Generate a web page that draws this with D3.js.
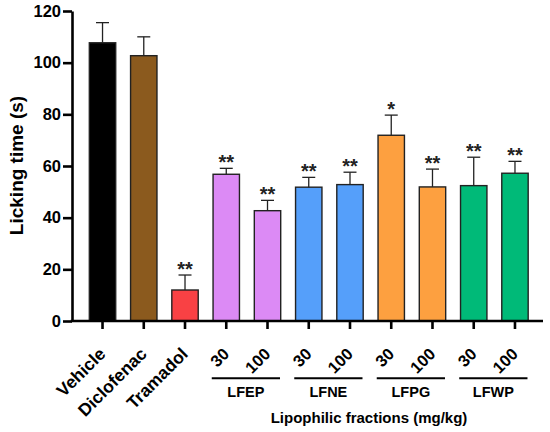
<!DOCTYPE html>
<html>
<head>
<meta charset="utf-8">
<script src="https://cdn.jsdelivr.net/npm/d3@7"></script>
<style>
  html, body { margin: 0; padding: 0; background: #fff; }
  svg { display: block; font-family: "Liberation Sans", Arial, sans-serif; }
</style>
</head>
<body>
<div id="chart"></div>
<script>
// data
const groups = ['Vehicle', 'Diclofenac', 'Tramadol', 'LFEP30', 'LFEP100', 'LFNE30', 'LFNE100', 'LFPG30', 'LFPG100', 'LFWP30', 'LFWP100'];
const tickLabels = ['Vehicle', 'Diclofenac', 'Tramadol', '30', '100', '30', '100', '30', '100', '30', '100'];
const means = [107.7, 102.7, 12.0, 56.8, 42.7, 51.8, 52.8, 71.9, 51.9, 52.4, 57.2];
const errTops = [115.5, 110.0, 17.8, 59.1, 46.7, 55.6, 57.6, 79.7, 58.8, 63.4, 61.8];
const stars = ['', '', '**', '**', '**', '**', '**', '*', '**', '**', '**'];
const barColors = ['#000000', '#8B5A1E', '#F94144', '#DC8AF5', '#DC8AF5', '#559FFA', '#559FFA', '#FDA040', '#FDA040', '#00BA78', '#00BA78'];
const fractions = [
    { name: 'LFEP', from: 'LFEP30', to: 'LFEP100' },
    { name: 'LFNE', from: 'LFNE30', to: 'LFNE100' },
    { name: 'LFPG', from: 'LFPG30', to: 'LFPG100' },
    { name: 'LFWP', from: 'LFWP30', to: 'LFWP100' }
];
const yTicks = [0, 20, 40, 60, 80, 100, 120];

const width = 550;
const height = 432;
const axisX = 72;
const axisY = 321;

const svg = d3.select('#chart').append('svg')
    .attr('width', width)
    .attr('height', height);

const x = d3.scaleBand()
    .domain(groups)
    .range([81.9, 535.6])
    .paddingInner(0.36)
    .paddingOuter(0.18);

const y = d3.scaleLinear()
    .domain([0, 120])
    .range([axisY, 11]);

const data = groups.map((g, i) => ({
    key: g, label: tickLabels[i], mean: means[i], err: errTops[i], star: stars[i], color: barColors[i]
}));

// bars
svg.append('g').selectAll('rect').data(data).enter().append('rect')
    .attr('x', (d) => x(d.key))
    .attr('y', (d) => y(d.mean))
    .attr('width', x.bandwidth())
    .attr('height', (d) => y(0) - y(d.mean))
    .attr('fill', (d) => d.color)
    .attr('stroke', '#222')
    .attr('stroke-width', 1.4);

// error bars (upper only)
const eb = svg.append('g').attr('stroke', '#222').attr('stroke-width', 1.3);
eb.selectAll('line.v').data(data).enter().append('line')
    .attr('class', 'v')
    .attr('x1', (d) => x(d.key) + x.bandwidth() / 2)
    .attr('x2', (d) => x(d.key) + x.bandwidth() / 2)
    .attr('y1', (d) => y(d.mean))
    .attr('y2', (d) => y(d.err));
eb.selectAll('line.cap').data(data).enter().append('line')
    .attr('class', 'cap')
    .attr('x1', (d) => x(d.key) + x.bandwidth() / 2 - 6.5)
    .attr('x2', (d) => x(d.key) + x.bandwidth() / 2 + 6.5)
    .attr('y1', (d) => y(d.err))
    .attr('y2', (d) => y(d.err));

// significance stars
svg.append('g').selectAll('text').data(data.filter((d) => d.star)).enter().append('text')
    .attr('x', (d) => x(d.key) + x.bandwidth() / 2)
    .attr('y', (d) => y(d.err) + 0.5)
    .attr('text-anchor', 'middle')
    .attr('font-size', '20px')
    .attr('font-weight', 'bold')
    .attr('fill', '#222')
    .text((d) => d.star);

// y axis
const yAxis = svg.append('g')
    .attr('transform', `translate(${axisX},0)`)
    .call(d3.axisLeft(y).tickValues(yTicks).tickSize(9).tickPadding(2).tickSizeOuter(0));
yAxis.select('.domain').attr('stroke', '#000').attr('stroke-width', 2.6);
yAxis.selectAll('.tick line').attr('stroke', '#000').attr('stroke-width', 2.6);
yAxis.selectAll('.tick text')
    .attr('font-size', '16.5px')
    .attr('font-weight', 'bold')
    .attr('font-family', '"Liberation Sans", Arial, sans-serif')
    .attr('fill', '#000');

// x axis: line drawn wider than the band range, ticks at bar centres
svg.append('line')
    .attr('x1', axisX - 1.3)
    .attr('x2', 543)
    .attr('y1', axisY)
    .attr('y2', axisY)
    .attr('stroke', '#000')
    .attr('stroke-width', 2.6);

const xAxis = svg.append('g')
    .attr('transform', `translate(0,${axisY})`)
    .call(d3.axisBottom(x).tickSize(8).tickSizeOuter(0).tickFormat(''));
xAxis.select('.domain').remove();
xAxis.selectAll('.tick line').attr('stroke', '#000').attr('stroke-width', 2.6);

// rotated tick labels
svg.append('g').selectAll('text').data(data).enter().append('text')
    .attr('transform', (d) => `translate(${x(d.key) + x.bandwidth() / 2 + 4},355) rotate(-45)`)
    .attr('text-anchor', 'end')
    .attr('font-size', (d) => (isNaN(+d.label) ? '17.5px' : '16.5px'))
    .attr('font-weight', 'bold')
    .attr('fill', '#000')
    .text((d) => d.label);

// fraction brackets
const fr = svg.append('g');
fractions.forEach((f) => {
    const x1 = x(f.from) + x.bandwidth() / 2 - 14.5;
    const x2 = x(f.to) + x.bandwidth() / 2 + 12.5;
    fr.append('line')
        .attr('x1', x1).attr('x2', x2)
        .attr('y1', 378.3).attr('y2', 378.3)
        .attr('stroke', '#000')
        .attr('stroke-width', 2);
    fr.append('text')
        .attr('x', (x1 + x2) / 2)
        .attr('y', 397)
        .attr('text-anchor', 'middle')
        .attr('font-size', '14.5px')
        .attr('font-weight', 'bold')
        .attr('fill', '#000')
        .text(f.name);
});

// axis titles
svg.append('text')
    .attr('x', 369)
    .attr('y', 423)
    .attr('text-anchor', 'middle')
    .attr('font-size', '15px')
    .attr('font-weight', 'bold')
    .attr('fill', '#000')
    .text('Lipophilic fractions (mg/kg)');

svg.append('text')
    .attr('transform', 'translate(22.5,165.5) rotate(-90)')
    .attr('text-anchor', 'middle')
    .attr('font-size', '19px')
    .attr('font-weight', 'bold')
    .attr('fill', '#000')
    .text('Licking time (s)');
</script>
</body>
</html>
